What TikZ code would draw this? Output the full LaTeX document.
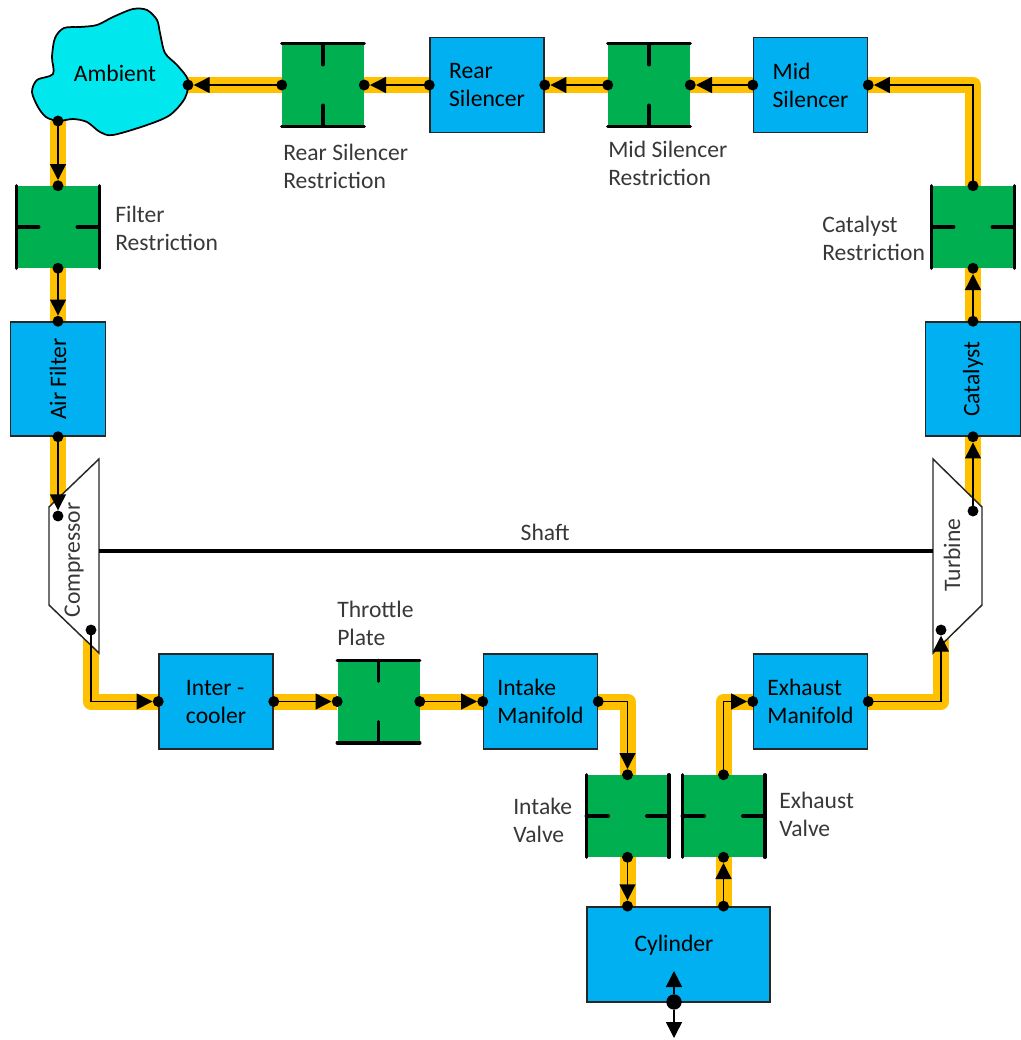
\documentclass[tikz,border=0pt]{standalone}
\usepackage{fontspec}
\setmainfont{Carlito}
\usetikzlibrary{arrows.meta,calc}
\definecolor{pipecol}{HTML}{FFC000}
\definecolor{boxblue}{HTML}{00B0F0}
\definecolor{restgreen}{HTML}{00B050}
\definecolor{ambcyan}{HTML}{00E8EE}
\pgfdeclarelayer{back}
\pgfsetlayers{back,main}
\begin{document}
\begin{tikzpicture}[
	x=0.75pt, y=-0.75pt,
	txt/.style={font=\fontsize{17.7}{21}\selectfont},
	box/.style={rectangle, draw=black!85, line width=1.1pt, fill=boxblue, minimum width=85.5pt, minimum height=71.5pt, inner sep=0pt, align=left, txt},
	rest/.style={rectangle, fill=restgreen, minimum size=61.5pt, inner sep=0pt},
	bar/.style={black, line width=2.6pt, line cap=round},
	lbl/.style={anchor=west, align=left, inner sep=0pt, text=black!78, txt},
	port/.style={circle, fill=black, inner sep=0pt, minimum size=8.2pt},
	pipe/.style={draw=pipecol, line width=12pt, line join=round},
	flow/.style={-{Triangle[width=12pt,length=12pt]}, black, line width=1.1pt},
	ambfill/.style={draw=black, line width=1.3pt, fill=ambcyan},
	turbo/.style={draw=black!85, line width=1.1pt, fill=white},
	]
	\useasboundingbox (0,0) rectangle (1021,1040);
	% Ambient
	\draw[ambfill] plot[smooth cycle] coordinates {(58,121) (46,117) (38,107) (32,92) (37,80) (53,74) (52,57) (55,38) (64,28) (80,27) (97,25) (113,17) (133,9) (147,10) (157,20) (160,33) (165,53) (177,65) (188,80) (185,98) (170,115) (147,125) (113,135) (100,132) (87,122) (73,119)};
	\node[txt] (amb) at (115,73) {Ambient};
	% Blue volumes
	\node[box] (rear) at (487,85) {Rear\\Silencer};
	\node[box] (mid) at (810.5,85) {Mid\\Silencer};
	\node[box, rotate=90] (afilt) at (58,379) {Air Filter};
	\node[box, rotate=90] (cat) at (973,379) {Catalyst};
	\node[box] (icool) at (216,701.5) {Inter -\\cooler};
	\node[box] (inman) at (540.5,701.5) {Intake\\Manifold};
	\node[box] (exman) at (810.5,701.5) {Exhaust\\Manifold};
	\node[box, minimum width=137pt] (cyl) at (678.5,954.5) {};
	\node[txt] (cyltxt) at (674,945) {Cylinder};
	% Restrictions
	\node[rest] (rearr) at (323,85) {};
	\node[rest] (midr) at (649,85) {};
	\node[rest] (throt) at (378.5,701.5) {};
	\node[rest] (filtr) at (58,227) {};
	\node[rest] (catr) at (973,227) {};
	\node[rest] (inv) at (627.5,816) {};
	\node[rest] (exv) at (723.5,816) {};
	\foreach \r in {rearr,midr,throt} {
		\draw[bar] (\r.north west) -- (\r.north east);
		\draw[bar] (\r.south west) -- (\r.south east);
		\draw[bar] (\r.north) -- ++(0,21);
		\draw[bar] (\r.south) -- ++(0,-21);
	}
	\foreach \r in {filtr,catr,inv,exv} {
		\draw[bar] (\r.north west) -- (\r.south west);
		\draw[bar] (\r.north east) -- (\r.south east);
		\draw[bar] (\r.west) -- ++(22,0);
		\draw[bar] (\r.east) -- ++(-22,0);
	}
	% Compressor, turbine and shaft
	\draw[turbo] (99,459) -- (49,507) -- (49,605) -- (99,653) -- cycle;
	\draw[turbo] (933,459) -- (982,507) -- (982,605) -- (933,653) -- cycle;
	\node[txt, rotate=90, text=black!78] (comp) at (74,560) {Compressor};
	\node[txt, rotate=90, text=black!78] (turb) at (952,555) {Turbine};
	\coordinate (shaftL) at (99,551);
	\coordinate (shaftR) at (933,551);
	\draw[black, line width=2.3pt] (shaftL) -- (shaftR) node[pos=0.535, above=3pt, txt, text=black!78] (shaftlbl) {Shaft};
	% Ports
	\node[port] (ambS) at (58,121) {};
	\node[port] (ambE) at (188,85) {};
	\node[port] (rearrE) at (rearr.east) {};
	\node[port] (rearrW) at (rearr.west) {};
	\node[port] (rearE) at (rear.east) {};
	\node[port] (rearW) at (rear.west) {};
	\node[port] (midrE) at (midr.east) {};
	\node[port] (midrW) at (midr.west) {};
	\node[port] (midE) at (mid.east) {};
	\node[port] (midW) at (mid.west) {};
	\node[port] (catrN) at (catr.north) {};
	\node[port] (catrS) at (catr.south) {};
	\node[port] (catN) at (cat.east) {};
	\node[port] (catS) at (cat.west) {};
	\node[port] (turbO) at (973,511) {};
	\node[port] (turbI) at (941,630) {};
	\node[port] (exE) at (exman.east) {};
	\node[port] (exW) at (exman.west) {};
	\node[port] (exvN) at (exv.north) {};
	\node[port] (exvS) at (exv.south) {};
	\node[port] (cylR) at (exv.south |- cyl.north) {};
	\node[port] (cylL) at (inv.south |- cyl.north) {};
	\node[port] (invN) at (inv.north) {};
	\node[port] (invS) at (inv.south) {};
	\node[port] (inE) at (inman.east) {};
	\node[port] (inW) at (inman.west) {};
	\node[port] (throtE) at (throt.east) {};
	\node[port] (throtW) at (throt.west) {};
	\node[port] (icE) at (icool.east) {};
	\node[port] (icW) at (icool.west) {};
	\node[port] (compO) at (91,630) {};
	\node[port] (compI) at (58,516) {};
	\node[port] (afiltS) at (afilt.west) {};
	\node[port] (afiltN) at (afilt.east) {};
	\node[port] (filtrS) at (filtr.south) {};
	\node[port] (filtrN) at (filtr.north) {};
	\node[port, minimum size=11.5pt] (cylB) at (674,1002) {};
	\coordinate (cylUp) at (674,971);
	\coordinate (cylDn) at (674,1038);
	% Flow path
	\foreach \a/\op/\b in {ambS/--/filtrN, filtrS/--/afiltN, afiltS/--/compI, compO/|-/icW, icE/--/throtW, throtE/--/inW,
		inE/-|/invN, invS/--/cylL, cylR/--/exvS, exvN/|-/exW, exE/-|/turbI, turbO/--/catS, catN/--/catrS, catrN/|-/midE,
		midW/--/midrE, midrW/--/rearE, rearW/--/rearrE, rearrW/--/ambE} {
		\begin{pgfonlayer}{back}
			\draw[pipe] (\a.center) \op (\b.center);
		\end{pgfonlayer}
		\draw[flow] (\a.center) \op (\b);
	}
	\draw[flow] (cylB) -- (cylUp);
	\draw[flow] (cylB) -- (cylDn);
	% Labels
	\node[lbl] (rearlbl) at (283,166) {Rear Silencer\\Restriction};
	\node[lbl] (midlbl) at (608,163) {Mid Silencer\\Restriction};
	\node[lbl] (filtlbl) at (115,228) {Filter\\Restriction};
	\node[lbl] (catlbl) at (822,238) {Catalyst\\Restriction};
	\node[lbl] (throtlbl) at (337,623) {Throttle\\Plate};
	\node[lbl] (invlbl) at (513,820) {Intake\\Valve};
	\node[lbl] (exvlbl) at (779,814) {Exhaust\\Valve};
\end{tikzpicture}
\end{document}
